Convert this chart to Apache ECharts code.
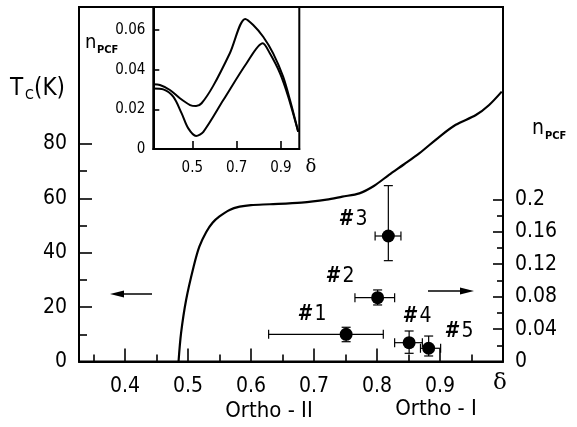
<!DOCTYPE html>
<html>
<head>
<meta charset="utf-8">
<script src="https://cdn.jsdelivr.net/npm/echarts@6/dist/echarts.min.js"></script>
<style>
html,body{margin:0;padding:0;background:#fff;}
#chart{width:577px;height:427px;}
</style>
</head>
<body>
<div id="chart"></div>
<script>
// ---- Main T_c(delta) curve ----
var tcDelta  = [0.485, 0.489, 0.497, 0.509, 0.518, 0.529, 0.539, 0.550, 0.566, 0.582, 0.600, 0.630, 0.680, 0.720, 0.745, 0.772, 0.795, 0.819, 0.843, 0.867, 0.899, 0.925, 0.957, 0.978, 0.998];
var tcValues = [0,     10.4,  22.6,  34.9,  42.2,  47.6,  51.0,  53.3,  55.7,  56.9,  57.5,  57.8,  58.4,  59.5,  60.6,  61.8,  64.5,  68.6,  72.5,  76.5,  82.6,  87.0,  90.6,  94.3,  99.2];

// ---- Samples (n_PCF vs delta, right axis) ----
var sampleNames = ['1', '2', '3', '4', '5'];
var sampleDelta = [0.751, 0.801, 0.818, 0.851, 0.882];
var sampleNpcf  = [0.0335, 0.0787, 0.1547, 0.0232, 0.0163];
var deltaLow    = [0.628, 0.765, 0.797, 0.828, 0.869];
var deltaHigh   = [0.810, 0.828, 0.838, 0.872, 0.901];
var npcfLow     = [0.0244, 0.0697, 0.1243, 0.0101, 0.0068];
var npcfHigh    = [0.0422, 0.0882, 0.2168, 0.0376, 0.0314];

// ---- Inset curves ----
var insetUpperX = [0.324, 0.354, 0.399, 0.444, 0.490, 0.517, 0.542, 0.595, 0.670, 0.739, 0.775, 0.820, 0.865, 0.910, 0.941, 0.978];
var insetUpperY = [0.0327, 0.0323, 0.0298, 0.0256, 0.0222, 0.0217, 0.0231, 0.0320, 0.0485, 0.0657, 0.0626, 0.0567, 0.0483, 0.0365, 0.0247, 0.0087];
var insetLowerX = [0.324, 0.369, 0.414, 0.452, 0.482, 0.517, 0.550, 0.640, 0.745, 0.818, 0.850, 0.896, 0.933, 0.978];
var insetLowerY = [0.0306, 0.0301, 0.0264, 0.0180, 0.0104, 0.0066, 0.0087, 0.0247, 0.0433, 0.0534, 0.0483, 0.0382, 0.0264, 0.0087];

// ---- Tick labels ----
var xMajorTicks = [0.4, 0.5, 0.6, 0.7, 0.8, 0.9];
var xMinorTicks = [0.35, 0.45, 0.55, 0.65, 0.75, 0.85, 0.95];
var tcMajorTicks = [0, 20, 40, 60, 80];
var tcMinorTicks = [10, 30, 50, 70];
var npcfMajorTicks = [0, 0.04, 0.08, 0.12, 0.16, 0.2];
var npcfMinorTicks = [0.02, 0.06, 0.10, 0.14, 0.18];
var insetXTicks = [0.5, 0.7, 0.9];
var insetYTicks = [0, 0.02, 0.04, 0.06];

var FF = "'DejaVu Sans Condensed', 'DejaVu Sans', sans-serif";
var BLACK = '#000';

function zip(a, b) { return a.map(function (v, i) { return [v, b[i]]; }); }

function axisBase(extra) {
  var base = {
    type: 'value',
    splitLine: { show: false },
    axisLine: { show: true, lineStyle: { color: BLACK, width: 2 } },
    axisTick: { show: true, inside: true, lineStyle: { color: BLACK, width: 1.6 } },
    axisLabel: { show: true, color: BLACK, fontFamily: FF, fontSize: 21 }
  };
  for (var k in extra) {
    if (typeof extra[k] === 'object' && base[k] && !Array.isArray(extra[k])) {
      for (var j in extra[k]) base[k][j] = extra[k][j];
    } else base[k] = extra[k];
  }
  return base;
}
function fmt(v) { return String(Math.round(v * 1000) / 1000); }

var chart = echarts.init(document.getElementById('chart'), null, { renderer: 'canvas' });

var errData = sampleDelta.map(function (d, i) {
  return [d, sampleNpcf[i], deltaLow[i], deltaHigh[i], npcfLow[i], npcfHigh[i]];
});

function sampleLabel(i, cx, cy) {
  return { type: 'text', x: cx, y: cy, style: {
    text: '{h|#}{n|' + sampleNames[i] + '}',
    textAlign: 'center', textVerticalAlign: 'middle',
    rich: {
      h: { font: 'italic bold 21px ' + FF, fill: BLACK, padding: [0, 4, 0, 0] },
      n: { font: '21px ' + FF, fill: BLACK }
    }
  } };
}

var option = {
  backgroundColor: '#fff',
  animation: false,
  grid: [
    { left: 79, top: 7, right: 74, bottom: 65.5, show: true, borderColor: BLACK, borderWidth: 2 },
    { left: 153.3, top: 7, width: 146, height: 142, show: true, borderColor: BLACK, borderWidth: 2 }
  ],
  xAxis: [
    axisBase({ gridIndex: 0, min: 0.327, max: 1.0, position: 'bottom',
      axisTick: { length: 13, customValues: xMajorTicks },
      axisLabel: { customValues: xMajorTicks, margin: 15, formatter: fmt } }),
    axisBase({ gridIndex: 0, min: 0.327, max: 1.0, position: 'bottom',
      axisLine: { show: false },
      axisTick: { length: 7, customValues: xMinorTicks },
      axisLabel: { show: false } }),
    axisBase({ gridIndex: 1, min: 0.324, max: 0.983, position: 'bottom',
      axisTick: { length: 8, customValues: insetXTicks },
      axisLabel: { customValues: insetXTicks, margin: 12, fontSize: 15, formatter: fmt } })
  ],
  yAxis: [
    axisBase({ gridIndex: 0, min: 0, max: 130.3, position: 'left',
      axisTick: { length: 13, customValues: tcMajorTicks },
      axisLabel: { customValues: tcMajorTicks, margin: 12, formatter: fmt } }),
    axisBase({ gridIndex: 0, min: 0, max: 130.3, position: 'left',
      axisLine: { show: false },
      axisTick: { length: 8, customValues: tcMinorTicks },
      axisLabel: { show: false } }),
    axisBase({ gridIndex: 0, min: 0, max: 0.437, position: 'right',
      axisTick: { length: 10, customValues: npcfMajorTicks },
      axisLabel: { customValues: npcfMajorTicks, margin: 12, formatter: fmt } }),
    axisBase({ gridIndex: 0, min: 0, max: 0.437, position: 'right',
      axisLine: { show: false },
      axisTick: { length: 6, customValues: npcfMinorTicks },
      axisLabel: { show: false } }),
    axisBase({ gridIndex: 1, min: 0, max: 0.0717, position: 'left',
      axisTick: { length: 6, customValues: insetYTicks },
      axisLabel: { customValues: insetYTicks, margin: 8, fontSize: 15, formatter: fmt } })
  ],
  series: [
    {
      name: 'Tc', type: 'line', xAxisIndex: 0, yAxisIndex: 0,
      data: zip(tcDelta, tcValues), showSymbol: false, smooth: 0.3,
      lineStyle: { color: BLACK, width: 2.2 }, clip: true, z: 3
    },
    {
      name: 'errors', type: 'custom', xAxisIndex: 0, yAxisIndex: 2, data: errData, z: 4,
      renderItem: function (params, api) {
        var c = api.coord([api.value(0), api.value(1)]);
        var xl = api.coord([api.value(2), api.value(1)])[0];
        var xh = api.coord([api.value(3), api.value(1)])[0];
        var yl = api.coord([api.value(0), api.value(4)])[1];
        var yh = api.coord([api.value(0), api.value(5)])[1];
        var cap = 4.5;
        var st = { stroke: BLACK, lineWidth: 1.2 };
        function ln(x1, y1, x2, y2) { return { type: 'line', shape: { x1: x1, y1: y1, x2: x2, y2: y2 }, style: st }; }
        return { type: 'group', children: [
          ln(xl, c[1], xh, c[1]),
          ln(xl, c[1] - cap, xl, c[1] + cap),
          ln(xh, c[1] - cap, xh, c[1] + cap),
          ln(c[0], yl, c[0], yh),
          ln(c[0] - cap, yl, c[0] + cap, yl),
          ln(c[0] - cap, yh, c[0] + cap, yh)
        ] };
      }
    },
    {
      name: 'samples', type: 'scatter', xAxisIndex: 0, yAxisIndex: 2,
      data: zip(sampleDelta, sampleNpcf), symbol: 'circle', symbolSize: 13,
      itemStyle: { color: BLACK, opacity: 1 }, z: 5
    },
    {
      name: 'insetUpper', type: 'line', xAxisIndex: 2, yAxisIndex: 4,
      data: zip(insetUpperX, insetUpperY), showSymbol: false, smooth: 0.3,
      lineStyle: { color: BLACK, width: 2 }, z: 3
    },
    {
      name: 'insetLower', type: 'line', xAxisIndex: 2, yAxisIndex: 4,
      data: zip(insetLowerX, insetLowerY), showSymbol: false, smooth: 0.3,
      lineStyle: { color: BLACK, width: 2 }, z: 3
    }
  ],
  graphic: [
    // axis titles
    { type: 'text', x: 10, y: 77, style: { text: 'T', font: '24px ' + FF, fill: BLACK } },
    { type: 'text', x: 25, y: 88, style: { text: 'C', font: '14px ' + FF, fill: BLACK } },
    { type: 'text', x: 34, y: 77, style: { text: '(K)', font: '24px ' + FF, fill: BLACK } },
    { type: 'text', x: 532, y: 118, style: { text: 'n', font: '21px ' + FF, fill: BLACK } },
    { type: 'text', x: 545, y: 131, style: { text: 'PCF', font: 'bold 11px ' + FF, fill: BLACK } },
    { type: 'text', x: 85, y: 33, style: { text: 'n', font: '20px ' + FF, fill: BLACK } },
    { type: 'text', x: 97, y: 45, style: { text: 'PCF', font: 'bold 11px ' + FF, fill: BLACK } },
    { type: 'text', x: 500, y: 383, style: { text: 'δ', font: '23px "DejaVu Serif", serif', fill: BLACK, textAlign: 'center', textVerticalAlign: 'middle' } },
    { type: 'text', x: 311, y: 167, style: { text: 'δ', font: '18px "DejaVu Serif", serif', fill: BLACK, textAlign: 'center', textVerticalAlign: 'middle' } },
    // phase names
    { type: 'text', x: 269, y: 411, style: { text: 'Ortho - II', font: '22px ' + FF, fill: BLACK, textAlign: 'center', textVerticalAlign: 'middle' } },
    { type: 'text', x: 436, y: 409, style: { text: 'Ortho - I', font: '22px ' + FF, fill: BLACK, textAlign: 'center', textVerticalAlign: 'middle' } },
    // sample labels
    sampleLabel(0, 312, 315),
    sampleLabel(1, 340, 277),
    sampleLabel(2, 353, 220),
    sampleLabel(3, 417, 317),
    sampleLabel(4, 459, 332),
    // arrows
    { type: 'line', shape: { x1: 118, y1: 294, x2: 152, y2: 294 }, style: { stroke: BLACK, lineWidth: 1.5 } },
    { type: 'polygon', shape: { points: [[110, 294], [124, 290.5], [124, 297.5]] }, style: { fill: BLACK } },
    { type: 'line', shape: { x1: 428, y1: 291, x2: 466, y2: 291 }, style: { stroke: BLACK, lineWidth: 1.5 } },
    { type: 'polygon', shape: { points: [[474, 291], [460, 287.5], [460, 294.5]] }, style: { fill: BLACK } }
  ]
};
chart.setOption(option);
</script>
</body>
</html>
